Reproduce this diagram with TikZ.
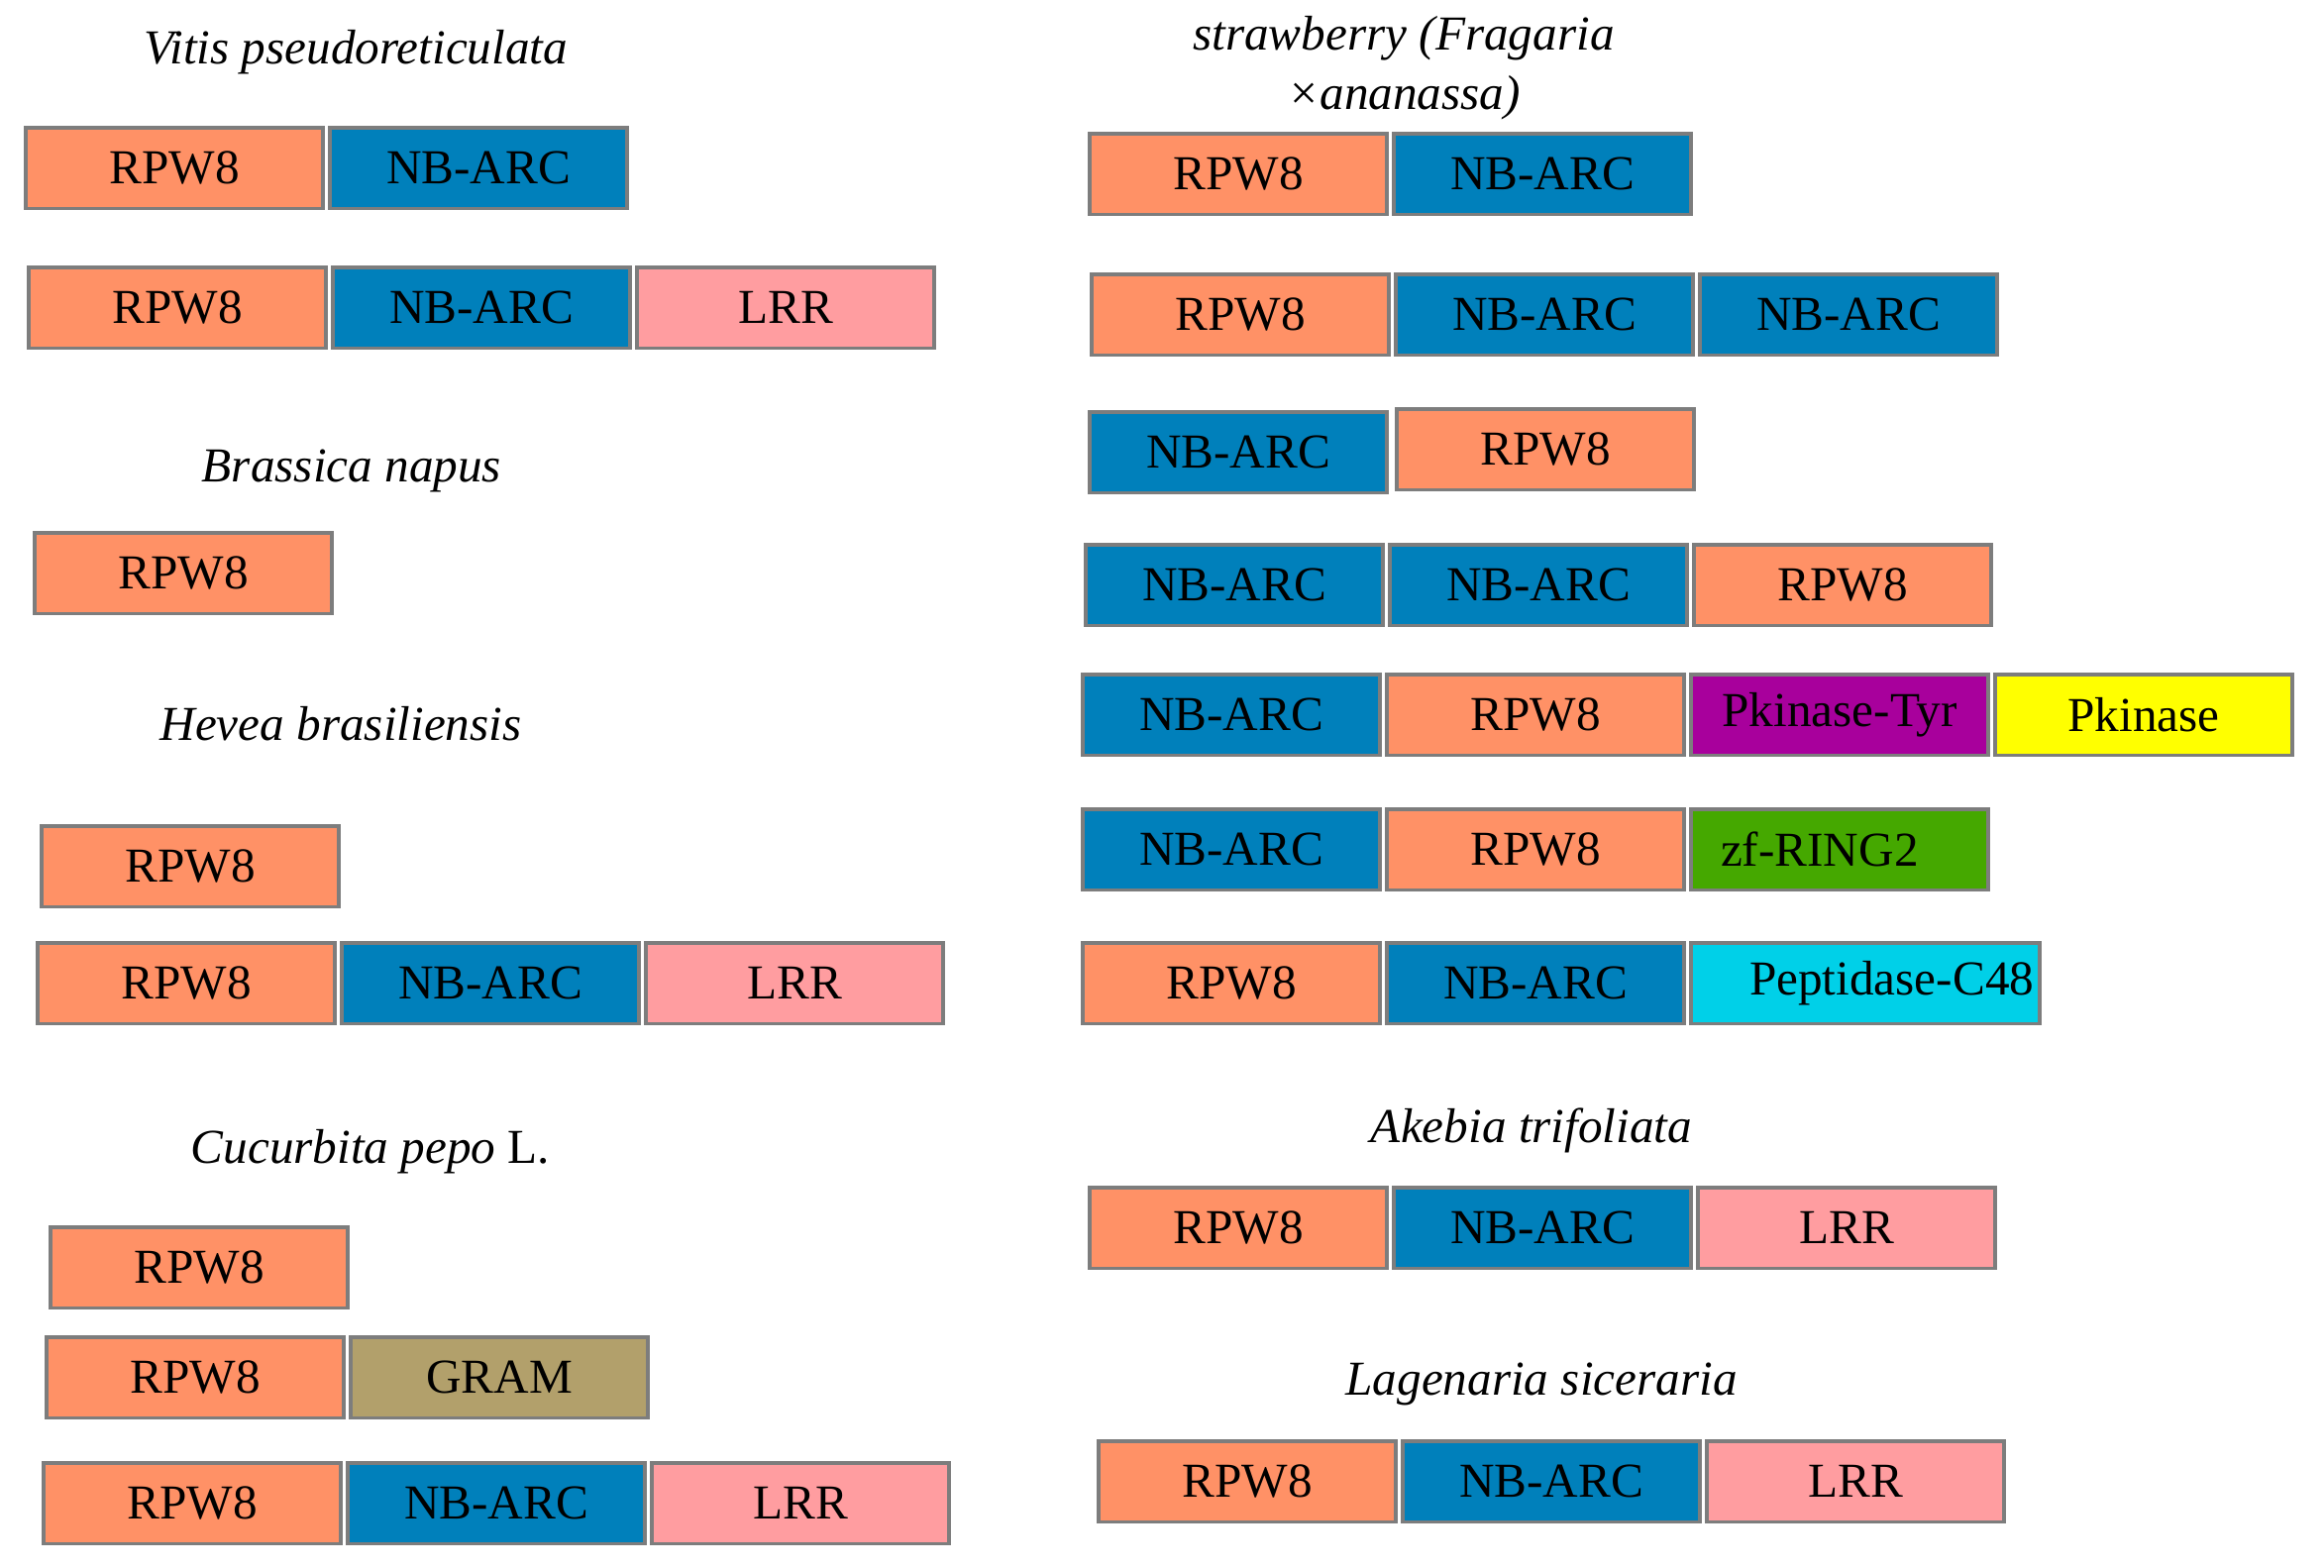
\documentclass[tikz,border=0pt]{standalone}
\usepackage{fontspec}
\setmainfont{Liberation Serif}
\usepackage{xcolor}
\usepackage{tikz}
\usetikzlibrary{positioning}
\definecolor{rpwcol}{RGB}{255,145,102}
\definecolor{nbcol}{RGB}{0,128,187}
\definecolor{lrrcol}{RGB}{255,157,160}
\definecolor{gramcol}{RGB}{178,160,107}
\definecolor{tyrcol}{RGB}{168,0,156}
\definecolor{pkincol}{RGB}{255,255,0}
\definecolor{ringcol}{RGB}{69,168,0}
\definecolor{peptcol}{RGB}{0,208,232}
\definecolor{edgegray}{RGB}{125,125,125}
\tikzset{
    base/.style={draw=edgegray, line width=1.1pt, font=\fontsize{14}{16}\selectfont, align=center, inner sep=2pt, minimum width=3.0cm, minimum height=0.815cm},
    rpw/.style={base, fill=rpwcol},
    nbarc/.style={base, fill=nbcol},
    lrr/.style={base, fill=lrrcol},
    gram/.style={base, fill=gramcol},
    pkintyr/.style={base, fill=tyrcol},
    pkin/.style={base, fill=pkincol},
    zfring/.style={base, fill=ringcol, text width=2.4cm, inner xsep=0.3cm, align=left},
    peptidase/.style={base, fill=peptcol, minimum width=3.52cm, text width=3.4cm, inner xsep=0.06cm, align=right},
    species/.style={font=\fontsize{14}{17}\selectfont\itshape, align=center}
}
\begin{document}
\begin{tikzpicture}[x=0.01cm, y=-0.01cm, node distance=0.03cm]
    \useasboundingbox (0,0) rectangle (2346,1582);

    % left column
    \node [species] (Vitis) at (359,53) {Vitis pseudoreticulata};
    \node [rpw, anchor=north west] (Vit1RPW) at (24,127) {RPW8};
    \node [nbarc, right=of Vit1RPW] (Vit1NB) {NB-ARC};
    \node [rpw, anchor=north west] (Vit2RPW) at (27,268) {RPW8};
    \node [nbarc, right=of Vit2RPW] (Vit2NB) {NB-ARC};
    \node [lrr, right=of Vit2NB] (Vit2LRR) {LRR};

    \node [species] (Brassica) at (355,475) {Brassica napus};
    \node [rpw, anchor=north west] (Bra1RPW) at (33,536) {RPW8};

    \node [species] (Hevea) at (344,731) {Hevea brasiliensis};
    \node [rpw, anchor=north west] (Hev1RPW) at (40,832) {RPW8};
    \node [rpw, anchor=north west] (Hev2RPW) at (36,950) {RPW8};
    \node [nbarc, right=of Hev2RPW] (Hev2NB) {NB-ARC};
    \node [lrr, right=of Hev2NB] (Hev2LRR) {LRR};

    \node [species] (Cucurbita) at (374,1163) {Cucurbita pepo \upshape L.};
    \node [rpw, anchor=north west] (Cuc1RPW) at (49,1237) {RPW8};
    \node [rpw, anchor=north west] (Cuc2RPW) at (45,1348) {RPW8};
    \node [gram, right=of Cuc2RPW] (Cuc2GRAM) {GRAM};
    \node [rpw, anchor=north west] (Cuc3RPW) at (42,1475) {RPW8};
    \node [nbarc, right=of Cuc3RPW] (Cuc3NB) {NB-ARC};
    \node [lrr, right=of Cuc3NB] (Cuc3LRR) {LRR};

    % right column
    \node [species] (Strawberry) at (1417,69) {strawberry (Fragaria\\×ananassa)};
    \node [rpw, anchor=north west] (Str1RPW) at (1098,133) {RPW8};
    \node [nbarc, right=of Str1RPW] (Str1NB) {NB-ARC};
    \node [rpw, anchor=north west] (Str2RPW) at (1100,275) {RPW8};
    \node [nbarc, right=of Str2RPW] (Str2NB) {NB-ARC};
    \node [nbarc, right=of Str2NB] (Str2NBb) {NB-ARC};
    \node [nbarc, anchor=north west] (Str3NB) at (1098,414) {NB-ARC};
    \node [rpw, right=0.06cm of Str3NB, yshift=0.03cm] (Str3RPW) {RPW8};
    \node [nbarc, anchor=north west] (Str4NB) at (1094,548) {NB-ARC};
    \node [nbarc, right=of Str4NB] (Str4NBb) {NB-ARC};
    \node [rpw, right=of Str4NBb] (Str4RPW) {RPW8};
    \node [nbarc, anchor=north west] (Str5NB) at (1091,679) {NB-ARC};
    \node [rpw, right=of Str5NB] (Str5RPW) {RPW8};
    \node [pkintyr, right=of Str5RPW] (Str5Tyr) {Pkinase-Tyr};
    \node [pkin, right=of Str5Tyr] (Str5Pkin) {Pkinase};
    \node [nbarc, anchor=north west] (Str6NB) at (1091,815) {NB-ARC};
    \node [rpw, right=of Str6NB] (Str6RPW) {RPW8};
    \node [zfring, right=of Str6RPW] (Str6Ring) {zf-RING2};
    \node [rpw, anchor=north west] (Str7RPW) at (1091,950) {RPW8};
    \node [nbarc, right=of Str7RPW] (Str7NB) {NB-ARC};
    \node [peptidase, right=of Str7NB] (Str7Pept) {Peptidase-C48};

    \node [species] (Akebia) at (1546,1141) {Akebia trifoliata};
    \node [rpw, anchor=north west] (Ake1RPW) at (1098,1197) {RPW8};
    \node [nbarc, right=of Ake1RPW] (Ake1NB) {NB-ARC};
    \node [lrr, right=of Ake1NB] (Ake1LRR) {LRR};

    \node [species] (Lagenaria) at (1556,1397) {Lagenaria siceraria};
    \node [rpw, anchor=north west] (Lag1RPW) at (1107,1453) {RPW8};
    \node [nbarc, right=of Lag1RPW] (Lag1NB) {NB-ARC};
    \node [lrr, right=of Lag1NB] (Lag1LRR) {LRR};
\end{tikzpicture}
\end{document}
